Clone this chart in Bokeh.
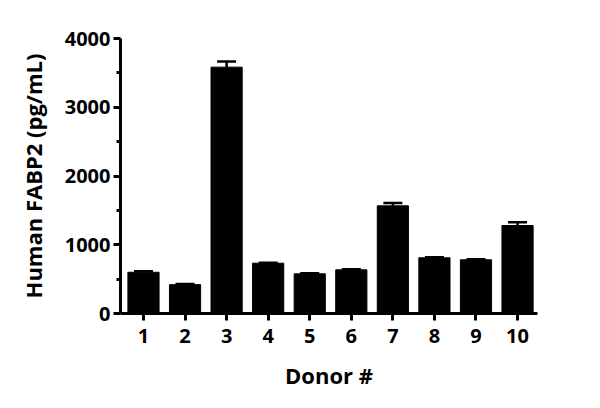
from bokeh.plotting import figure
from bokeh.models import ColumnDataSource, FixedTicker, Whisker, TeeHead, Range1d
from bokeh.embed import file_html
from bokeh.resources import INLINE

donors = [1, 2, 3, 4, 5, 6, 7, 8, 9, 10]
values = [600, 420, 3583, 732, 577, 635, 1566, 810, 781, 1280]
errors = [15, 8, 82, 8, 8, 8, 40, 8, 8, 48]
y_ticks = [0, 1000, 2000, 3000, 4000]
y_minor = [500, 1500, 2500, 3500]

upper = [v + e for v, e in zip(values, errors)]
src = ColumnDataSource(dict(x=donors, top=values, upper=upper))

FONT = "Open Sans"

p = figure(width=584, height=392, output_backend="svg", toolbar_location=None,
           x_range=Range1d(0.447, 10.48), y_range=Range1d(0, 4000),
           min_border_left=120, min_border_right=47, min_border_top=38, min_border_bottom=79)
p.outline_line_color = None
p.grid.visible = False
p.background_fill_color = "white"
p.border_fill_color = "white"

p.vbar(x="x", top="top", width=0.75, bottom=0, source=src, color="black")
w = Whisker(base="x", upper="upper", lower="top", source=src, line_color="black", line_width=2.5,
            upper_head=TeeHead(size=19, line_width=2.5, line_color="black"), lower_head=None)
p.add_layout(w)

p.xaxis.ticker = FixedTicker(ticks=donors)
p.yaxis.ticker = FixedTicker(ticks=y_ticks, minor_ticks=y_minor)

for ax in (p.xaxis[0], p.yaxis[0]):
    ax.axis_line_width = 3
    ax.major_tick_line_width = 3
    ax.minor_tick_line_width = 3
    ax.axis_line_color = "black"
    ax.major_tick_line_color = "black"
    ax.major_tick_out = 7
    ax.major_tick_in = 0
    ax.major_label_text_font = FONT
    ax.major_label_text_font_style = "bold"
    ax.major_label_text_font_size = "20px"
    ax.major_label_text_color = "black"
    ax.axis_label_text_font = FONT
    ax.axis_label_text_font_style = "bold"
    ax.axis_label_text_font_size = "22px"
    ax.axis_label_text_color = "black"

p.xaxis.minor_tick_line_color = None
p.yaxis.minor_tick_out = 4
p.yaxis.minor_tick_in = 0
p.yaxis.minor_tick_line_color = "black"
p.xaxis.axis_label = "Donor #"
p.yaxis.axis_label = "Human FABP2 (pg/mL)"
p.xaxis.major_label_standoff = 8
p.yaxis.major_label_standoff = 3
p.xaxis.axis_label_standoff = 14
p.yaxis.axis_label_standoff = 14

open("out.html", "w").write(file_html(p, INLINE))
